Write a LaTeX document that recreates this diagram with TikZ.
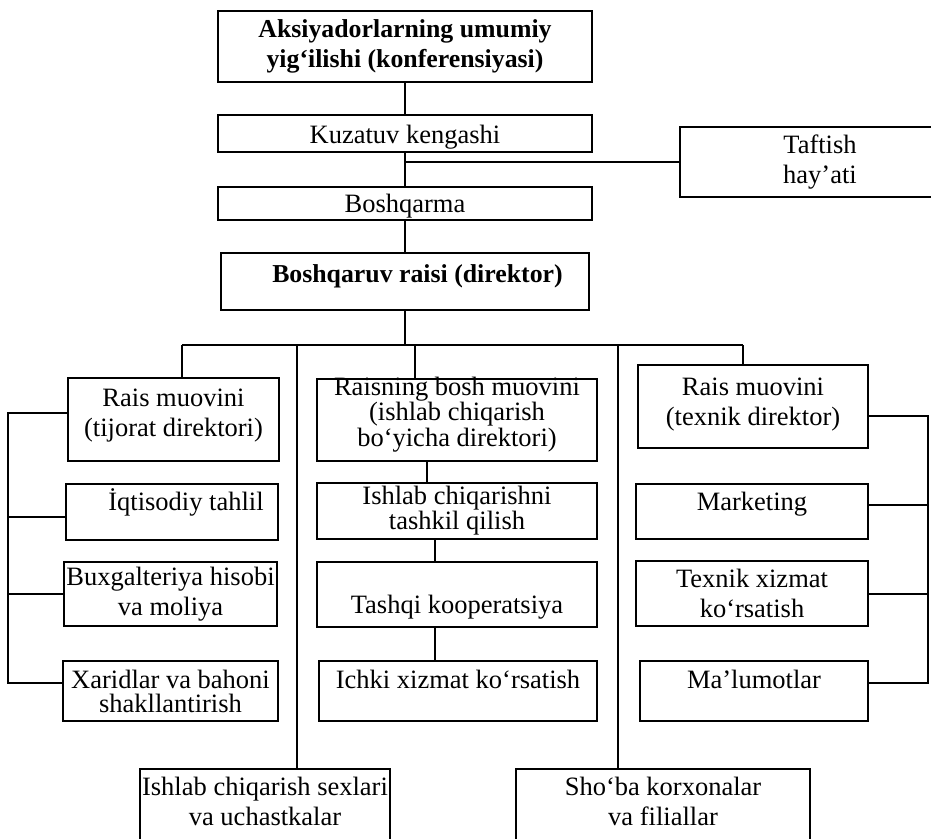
\documentclass[tikz,border=0pt]{standalone}
\usepackage{fontspec}
\setmainfont{Liberation Serif}

\begin{document}
\begin{tikzpicture}[x=1pt, y=-1pt,
		box/.style={draw, line width=2pt, inner sep=0pt, align=center, font=\fontsize{26.5}{30}\selectfont},
		boldbox/.style={box, font=\fontsize{25.8}{30}\selectfont\bfseries},
		tightbox/.style={box, font=\fontsize{26.5}{24}\selectfont},
		lift/.style={text height=18pt, text depth=#1},
		lifttwo/.style={text height=48pt, text depth=#1},
		link/.style={line width=2pt}]
		\useasboundingbox (0,0) rectangle (931,838);
		\clip (0,0) rectangle (931,838);
		\node[boldbox, minimum width=374pt, minimum height=71pt] (aksiya) at (405,46.5) {Aksiyadorlarning umumiy\\yig‘ilishi (konferensiyasi)};
		\node[box, text height=25pt, text depth=6pt, minimum width=374pt, minimum height=37pt] (kuzatuv) at (405,133.5) {Kuzatuv kengashi};
		\node[box, text height=23pt, text depth=6pt, minimum width=374pt, minimum height=33pt] (boshqarma) at (405,203.5) {Boshqarma};
		\node[boldbox, lift=17pt, minimum width=368pt, minimum height=57pt] (direktor) at (405,281.5) {\hspace*{25pt}Boshqaruv raisi (direktor)};
		\node[box, minimum width=280pt, minimum height=70pt] (taftish) at (820,162) {Taftish\\hay’ati};
		\node[box, lifttwo=15pt, minimum width=211pt, minimum height=83pt] (tijorat) at (173.5,419.5) {Rais muovini\\(tijorat direktori)};
		\node[box, lift=22pt, minimum width=212pt, minimum height=56pt] (iqtisodiy) at (172,512) {\hspace*{28pt}İqtisodiy tahlil};
		\node[box, minimum width=213pt, minimum height=64pt] (buxgalteriya) at (170.5,594) {Buxgalteriya hisobi\\va moliya};
		\node[tightbox, minimum width=215pt, minimum height=60pt] (xaridlar) at (170.5,691) {Xaridlar va bahoni\\shakllantirish};
		\node[tightbox, text height=66pt, text depth=14pt, minimum width=280pt, minimum height=82pt] (boshm) at (457,420) {Raisning bosh muovini\\(ishlab chiqarish\\bo‘yicha direktori)};
		\node[tightbox, minimum width=280pt, minimum height=56pt] (ishtash) at (457,511) {Ishlab chiqarishni\\tashkil qilish};
		\node[box, text height=43pt, text depth=6pt, minimum width=280pt, minimum height=65pt] (tashqi) at (457,594.5) {Tashqi kooperatsiya};
		\node[box, lift=24pt, minimum width=278pt, minimum height=60pt] (ichki) at (458,691) {Ichki xizmat ko‘rsatish};
		\node[box, lifttwo=11pt, minimum width=230pt, minimum height=83pt] (texnik) at (753,406.5) {Rais muovini\\(texnik direktor)};
		\node[box, lift=21pt, minimum width=232pt, minimum height=55pt] (marketing) at (752,511.5) {Marketing};
		\node[box, minimum width=232pt, minimum height=65pt] (texserv) at (752,593.5) {Texnik xizmat\\ko‘rsatish};
		\node[box, lift=24pt, minimum width=228pt, minimum height=60pt] (malumot) at (754,691) {Ma’lumotlar};
		\node[box, lifttwo=27pt, minimum width=250pt, minimum height=91pt] (sexlari) at (265,814.5) {Ishlab chiqarish sexlari\\va uchastkalar};
		\node[box, lifttwo=27pt, minimum width=294pt, minimum height=91pt] (shoba) at (663,814.5) {Sho‘ba korxonalar\\va filiallar};
		\coordinate (b1) at (182,345);
		\coordinate (b2) at (297,345);
		\coordinate (b3) at (415,345);
		\coordinate (b4) at (618,345);
		\coordinate (b5) at (743,345);
		\coordinate (m1) at (427,0);
		\coordinate (m2) at (435,0);
		\coordinate (rl) at (8,0);
		\coordinate (rr) at (928,0);
		\draw[link] (aksiya) -- (kuzatuv);
		\draw[link] (kuzatuv) -- (boshqarma);
		\draw[link] (taftish.west) -- (taftish.west -| kuzatuv.south);
		\draw[link] (boshqarma) -- (direktor);
		\draw[link] (direktor.south) -- (direktor.south |- b1);
		\draw[link] (b1) -- (b5);
		\draw[link] (b1) -- (b1 |- tijorat.north);
		\draw[link] (b2) -- (b2 |- sexlari.north);
		\draw[link] (b3) -- (b3 |- boshm.north);
		\draw[link] (b4) -- (b4 |- shoba.north);
		\draw[link] (b5) -- (b5 |- texnik.north);
		\draw[link] (boshm.south -| m1) -- (ishtash.north -| m1);
		\draw[link] (ishtash.south -| m2) -- (tashqi.north -| m2);
		\draw[link] (tashqi.south -| m2) -- (ichki.north -| m2);
		\draw[link] ([yshift=6.5pt]tijorat.west) -- ([yshift=6.5pt]tijorat.west -| rl) -- ([yshift=8pt]xaridlar.west -| rl) -- ([yshift=8pt]xaridlar.west);
		\draw[link] ([yshift=-5pt]iqtisodiy.west) -- ([yshift=-5pt]iqtisodiy.west -| rl);
		\draw[link] (buxgalteriya.west) -- (buxgalteriya.west -| rl);
		\draw[link] ([yshift=-9.5pt]texnik.east) -- ([yshift=-9.5pt]texnik.east -| rr) -- ([yshift=8pt]malumot.east -| rr) -- ([yshift=8pt]malumot.east);
		\draw[link] ([yshift=6.5pt]marketing.east) -- ([yshift=6.5pt]marketing.east -| rr);
		\draw[link] (texserv.east) -- (texserv.east -| rr);
	\end{tikzpicture}
\end{document}
